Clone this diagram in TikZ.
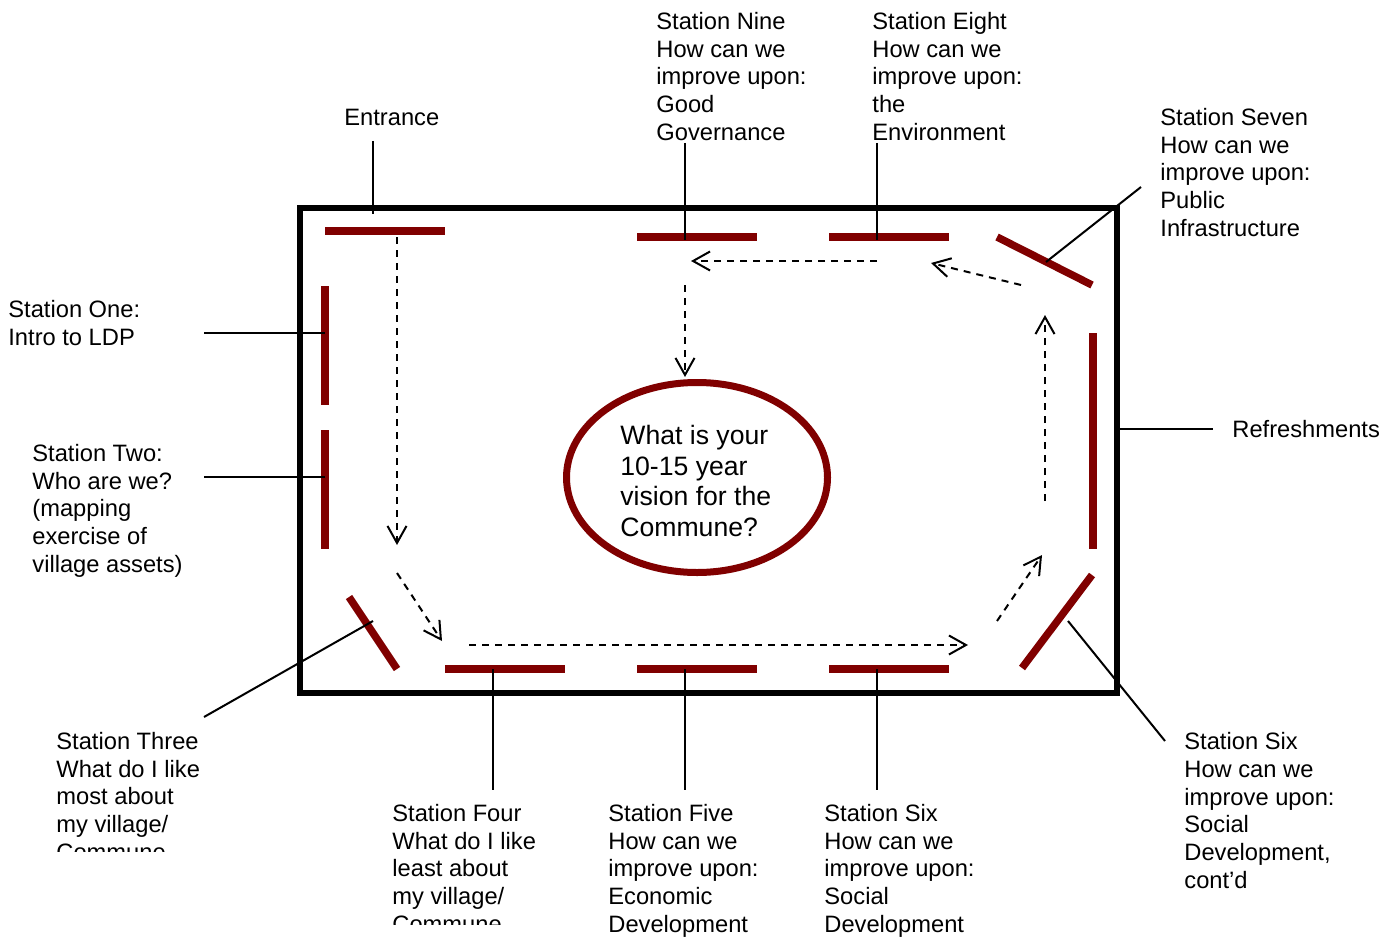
\documentclass[tikz,border=0pt]{standalone}
\usepackage{fontspec}
\setmainfont{Liberation Sans}
\usetikzlibrary{arrows.meta,shapes.geometric}
\definecolor{barred}{HTML}{800000}
\begin{document}
\begin{tikzpicture}[x=0.5pt,y=-0.5pt,
  lbl/.style={anchor=base west, inner sep=0pt, align=left, font=\fontsize{11.85pt}{13.88pt}\selectfont},
  biglbl/.style={anchor=base west, inner sep=0pt, align=left, font=\fontsize{13.3pt}{15.35pt}\selectfont},
  barline/.style={draw=barred, line width=3.75pt},
  lead/.style={draw=black, line width=1pt},
  flow/.style={draw=black, line width=1pt, dash pattern=on 3.5pt off 3pt, -{Straight Barb[length=8.5pt,width=9.5pt,line width=1pt]}},
  frame/.style={draw=black, line width=2.6pt}
]
\useasboundingbox (0,0) rectangle (1395,936);

% frame
\draw[frame] (300,208) rectangle (1117,693);

% bars (end points)
\coordinate (entA) at (325,231);  \coordinate (entB) at (445,231);
\coordinate (ninA) at (637,237);  \coordinate (ninB) at (757,237);
\coordinate (eigA) at (829,237);  \coordinate (eigB) at (949,237);
\coordinate (sevA) at (997,237);  \coordinate (sevB) at (1092,285);
\coordinate (refA) at (1093,333); \coordinate (refB) at (1093,549);
\coordinate (sxrA) at (1092,575); \coordinate (sxrB) at (1022,668);
\coordinate (sixA) at (829,669);  \coordinate (sixB) at (949,669);
\coordinate (fivA) at (637,669);  \coordinate (fivB) at (757,669);
\coordinate (fouA) at (445,669);  \coordinate (fouB) at (565,669);
\coordinate (thrA) at (349,597);  \coordinate (thrB) at (397,669);
\coordinate (twoA) at (325,430);  \coordinate (twoB) at (325,549);
\coordinate (oneA) at (325,286);  \coordinate (oneB) at (325,405);

\foreach \b in {ent,nin,eig,sev,ref,sxr,six,fiv,fou,thr,two,one}
  \draw[barline] (\b A) -- (\b B);

% ellipse
\node[draw=barred, line width=3.5pt, shape=ellipse, minimum width=130.5pt, minimum height=95pt, inner sep=0pt] (vision) at (697,477.5) {};
\node[biglbl] (visiontext) at (620,536.6) {What is your\\10-15 year\\vision for the\\Commune?};

% labels (anchor = baseline of last line)
\node[lbl] (lNine) at (656,140.5) {Station Nine\\How can we\\improve upon:\\Good\\Governance};
\node[lbl] (lEight) at (872,140.5) {Station Eight\\How can we\\improve upon:\\the\\Environment};
\node[lbl] (lEnt) at (344,125.5) {Entrance};
\node[lbl] (lSeven) at (1160,236.5) {Station Seven\\How can we\\improve upon:\\Public\\Infrastructure};
\node[lbl] (lOne) at (8,345.5) {Station One:\\Intro to LDP};
\node[lbl] (lTwo) at (32,572.5) {Station Two:\\Who are we?\\(mapping\\exercise of\\village assets)};
\node[lbl] (lRef) at (1232,437.5) {Refreshments};
\begin{scope}
  \clip (0,0) rectangle (560,851);
  \node[lbl] (lThree) at (56,860.5) {Station Three\\What do I like\\most about\\my village/\\Commune};
\end{scope}
\begin{scope}
  \clip (380,780) rectangle (600,924);
  \node[lbl] (lFour) at (392,932.5) {Station Four\\What do I like\\least about\\my village/\\Commune};
\end{scope}
\node[lbl] (lFive) at (608,932.5) {Station Five\\How can we\\improve upon:\\Economic\\Development};
\node[lbl] (lSix) at (824,932.5) {Station Six\\How can we\\improve upon:\\Social\\Development};
\node[lbl] (lSixR) at (1184,888.5) {Station Six\\How can we\\improve upon:\\Social\\Development,\\cont’d};

% leader line ends
\coordinate (eEnt1) at (373,141);  \coordinate (eEnt2) at (373,214);
\coordinate (eNin1) at (685,143);  \coordinate (eNin2) at (685,240);
\coordinate (eEig1) at (877,143);  \coordinate (eEig2) at (877,240);
\coordinate (eSev1) at (1141,187); \coordinate (eSev2) at (1046,262);
\coordinate (eOne1) at (204,333);  \coordinate (eOne2) at (325,333);
\coordinate (eTwo1) at (204,477);  \coordinate (eTwo2) at (325,477);
\coordinate (eRef1) at (1117,429); \coordinate (eRef2) at (1213,429);
\coordinate (eThr1) at (204,717);  \coordinate (eThr2) at (373,621);
\coordinate (eFou1) at (493,669);  \coordinate (eFou2) at (493,790);
\coordinate (eFiv1) at (685,669);  \coordinate (eFiv2) at (685,790);
\coordinate (eSix1) at (877,669);  \coordinate (eSix2) at (877,790);
\coordinate (eSxr1) at (1068,621); \coordinate (eSxr2) at (1165,741);
\foreach \e in {Ent,Nin,Eig,Sev,One,Two,Ref,Thr,Fou,Fiv,Six,Sxr}
  \draw[lead] (e\e1) -- (e\e2);

% flow arrows
\coordinate (f1a) at (397,237);  \coordinate (f1b) at (397,545);
\coordinate (f2a) at (397,573);  \coordinate (f2b) at (442,641);
\coordinate (f3a) at (469,645);  \coordinate (f3b) at (968,645);
\coordinate (f4a) at (997,621);  \coordinate (f4b) at (1042,555);
\coordinate (f5a) at (1045,501); \coordinate (f5b) at (1045,315);
\coordinate (f6a) at (1021,285); \coordinate (f6b) at (931,263);
\coordinate (f7a) at (877,261);  \coordinate (f7b) at (691,261);
\coordinate (f8a) at (685,285);  \coordinate (f8b) at (685,377);
\foreach \f in {1,...,8}
  \draw[flow] (f\f a) -- (f\f b);
\end{tikzpicture}
\end{document}
